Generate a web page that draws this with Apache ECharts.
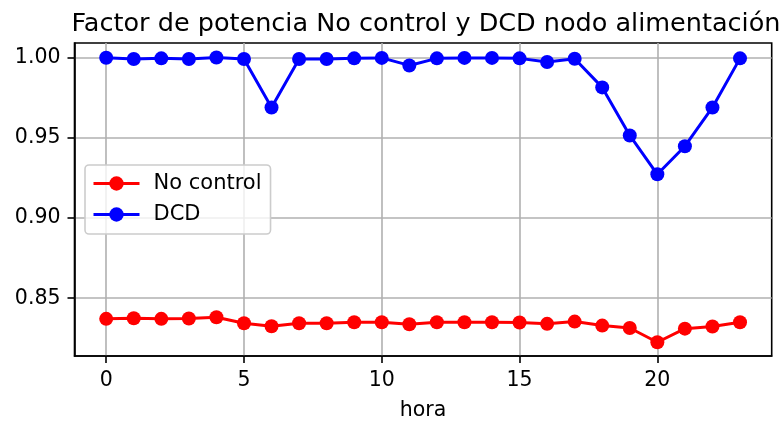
<!DOCTYPE html>
<html>
<head>
<meta charset="utf-8">
<script src="https://cdn.jsdelivr.net/npm/echarts@6/dist/echarts.min.js"></script>
<style>
  html, body { margin: 0; padding: 0; background: #fff; }
  #chart { width: 782px; height: 421px; }
</style>
</head>
<body>
<div id="chart"></div>
<script>
const hours = [0, 1, 2, 3, 4, 5, 6, 7, 8, 9, 10, 11, 12, 13, 14, 15, 16, 17, 18, 19, 20, 21, 22, 23];
const noControl = [0.8371, 0.8375, 0.8371, 0.8373, 0.8381, 0.8344, 0.8325, 0.8344, 0.8344, 0.8350, 0.8350, 0.8337,
  0.8350, 0.8350, 0.8350, 0.8348, 0.8340, 0.8354, 0.8329, 0.8314, 0.8225, 0.8310, 0.8323, 0.8350];
const dcd = [1.0000, 0.9992, 0.9996, 0.9992, 1.0001, 0.9992, 0.9690, 0.9992, 0.9992, 0.9996, 0.9999, 0.9952,
  0.9996, 0.9999, 0.9999, 0.9996, 0.9973, 0.9994, 0.9815, 0.9515, 0.9273, 0.9448, 0.9690, 0.9996];
const xTicks = [0, 5, 10, 15, 20];
const yTicks = [0.85, 0.90, 0.95, 1.00];

const font = 'DejaVu Sans';
const chart = echarts.init(document.getElementById('chart'));

const pairs = vals => hours.map((h, i) => [h, vals[i]]);

chart.setOption({
  animation: false,
  title: {
    text: 'Factor de potencia No control y DCD nodo alimentación',
    left: 421,
    textAlign: 'center',
    top: 6,
    textStyle: { fontFamily: font, fontSize: 25.5, fontWeight: 'normal', color: '#000' }
  },
  legend: {
    orient: 'vertical',
    left: 85,
    top: 165,
    padding: [8, 9, 9, 7],
    itemWidth: 46,
    itemHeight: 18,
    itemGap: 10,
    backgroundColor: 'rgba(255,255,255,0.8)',
    borderColor: '#cccccc',
    borderWidth: 1.6,
    borderRadius: 4,
    lineStyle: { width: 3 },
    textStyle: { fontFamily: font, fontSize: 21, color: '#000', padding: [0, 0, 0, 9] },
    data: ['No control', 'DCD']
  },
  grid: {
    left: 74.5, right: 10.3, top: 43, bottom: 65,
    outerBoundsMode: 'none',
    containLabel: false,
    show: true, borderColor: '#000', borderWidth: 1.6, backgroundColor: 'transparent'
  },
  xAxis: {
    type: 'value',
    min: -1.15,
    max: 24.15,
    name: 'hora',
    nameLocation: 'middle',
    nameGap: 44,
    nameTextStyle: { fontFamily: font, fontSize: 20.5, color: '#000' },
    axisLine: { show: true, onZero: false, lineStyle: { color: '#000', width: 1.6 } },
    axisTick: { show: true, inside: false, length: 7, lineStyle: { color: '#000', width: 1.6 }, customValues: xTicks },
    axisLabel: { margin: 14, fontFamily: font, fontSize: 20.5, color: '#000', customValues: xTicks, formatter: v => String(v) },
    splitLine: { show: true, lineStyle: { color: '#b0b0b0', width: 1.6 } }
  },
  yAxis: {
    type: 'value',
    min: 0.81394,
    max: 1.00919,
    axisLine: { show: true, onZero: false, lineStyle: { color: '#000', width: 1.6 } },
    axisTick: { show: true, inside: false, length: 7, lineStyle: { color: '#000', width: 1.6 }, customValues: yTicks },
    axisLabel: { margin: 14, fontFamily: font, fontSize: 20.5, color: '#000', customValues: yTicks, formatter: v => v.toFixed(2) },
    splitLine: { show: true, lineStyle: { color: '#b0b0b0', width: 1.6 } }
  },
  series: [
    {
      name: 'No control',
      type: 'line',
      data: pairs(noControl),
      symbol: 'circle',
      symbolSize: 14,
      color: '#ff0000',
      lineStyle: { color: '#ff0000', width: 3 },
      itemStyle: { color: '#ff0000' }
    },
    {
      name: 'DCD',
      type: 'line',
      data: pairs(dcd),
      symbol: 'circle',
      symbolSize: 14,
      color: '#0000ff',
      lineStyle: { color: '#0000ff', width: 3 },
      itemStyle: { color: '#0000ff' }
    }
  ]
});
</script>
</body>
</html>
